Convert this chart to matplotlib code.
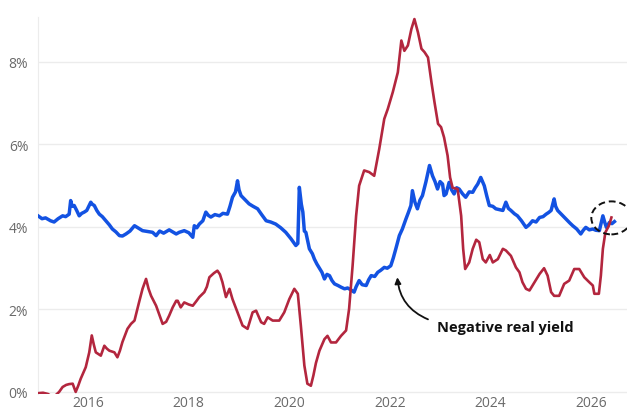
import matplotlib
matplotlib.use("Agg")
import matplotlib.pyplot as plt
from matplotlib.patches import Ellipse

plt.rcParams['font.family'] = ['Open Sans', 'DejaVu Sans']

# Blue series (decimal year, percent)
blue_t = [2015.00, 2015.08, 2015.15, 2015.25, 2015.32, 2015.40, 2015.49, 2015.55, 2015.62, 2015.65,
          2015.68, 2015.72, 2015.77, 2015.82, 2015.87, 2015.92, 2015.97, 2016.05, 2016.08, 2016.12,
          2016.17, 2016.22, 2016.28, 2016.35, 2016.42, 2016.48, 2016.55, 2016.62, 2016.68, 2016.75,
          2016.83, 2016.92, 2017.00, 2017.08, 2017.18, 2017.28, 2017.35, 2017.42, 2017.50, 2017.61,
          2017.68, 2017.75, 2017.81, 2017.91, 2018.00, 2018.08, 2018.11, 2018.16, 2018.21, 2018.28,
          2018.34, 2018.39, 2018.44, 2018.52, 2018.61, 2018.68, 2018.77, 2018.82, 2018.87, 2018.93,
          2018.97, 2019.00, 2019.04, 2019.12, 2019.20, 2019.28, 2019.37, 2019.45, 2019.54, 2019.63,
          2019.73, 2019.83, 2019.93, 2020.03, 2020.13, 2020.17, 2020.20, 2020.24, 2020.27, 2020.30,
          2020.33, 2020.40, 2020.46, 2020.50, 2020.55, 2020.60, 2020.65, 2020.70, 2020.75, 2020.80,
          2020.85, 2020.90, 2020.97, 2021.03, 2021.10, 2021.16, 2021.22, 2021.29, 2021.33, 2021.39,
          2021.45, 2021.53, 2021.58, 2021.63, 2021.70, 2021.76, 2021.82, 2021.89, 2021.95, 2022.02,
          2022.07, 2022.12, 2022.19, 2022.25, 2022.32, 2022.37, 2022.42, 2022.45, 2022.50, 2022.55,
          2022.60, 2022.65, 2022.72, 2022.79, 2022.85, 2022.90, 2022.95, 2023.00, 2023.05, 2023.08,
          2023.12, 2023.18, 2023.23, 2023.28, 2023.33, 2023.38, 2023.45, 2023.51, 2023.58, 2023.65,
          2023.70, 2023.75, 2023.81, 2023.88, 2023.93, 2023.98, 2024.05, 2024.11, 2024.18, 2024.25,
          2024.31, 2024.36, 2024.41, 2024.48, 2024.54, 2024.62, 2024.71, 2024.77, 2024.84, 2024.91,
          2024.98, 2025.05, 2025.11, 2025.16, 2025.21, 2025.27, 2025.30, 2025.34, 2025.42, 2025.51,
          2025.58, 2025.64, 2025.72, 2025.80, 2025.85, 2025.90, 2025.97, 2026.04, 2026.10, 2026.17,
          2026.24, 2026.28, 2026.31, 2026.37, 2026.42, 2026.47]
blue_v = [4.27, 4.20, 4.22, 4.15, 4.12, 4.20, 4.27, 4.25, 4.31, 4.64,
          4.50, 4.52, 4.40, 4.27, 4.33, 4.36, 4.40, 4.60, 4.55, 4.52,
          4.40, 4.31, 4.25, 4.15, 4.05, 3.95, 3.88, 3.79, 3.78, 3.83,
          3.90, 4.03, 3.97, 3.91, 3.89, 3.87, 3.79, 3.90, 3.85, 3.93,
          3.88, 3.83, 3.87, 3.91, 3.86, 3.75, 4.03, 3.98, 4.07, 4.15,
          4.36, 4.28, 4.24, 4.30, 4.27, 4.33, 4.31, 4.50, 4.72, 4.85,
          5.12, 4.90, 4.76, 4.66, 4.56, 4.50, 4.44, 4.30, 4.15, 4.12,
          4.07, 3.98, 3.87, 3.72, 3.55, 3.60, 4.96, 4.55, 4.36, 3.90,
          3.87, 3.47, 3.35, 3.22, 3.10, 3.00, 2.90, 2.74, 2.85, 2.82,
          2.70, 2.62, 2.58, 2.54, 2.50, 2.52, 2.48, 2.42, 2.55, 2.70,
          2.60, 2.58, 2.72, 2.82, 2.80, 2.90, 2.95, 3.02, 3.00, 3.06,
          3.25, 3.47, 3.79, 3.95, 4.19, 4.35, 4.52, 4.88, 4.60, 4.44,
          4.65, 4.76, 5.10, 5.49, 5.24, 5.10, 4.92, 5.10, 5.04, 4.76,
          4.80, 5.08, 4.90, 4.80, 4.95, 4.92, 4.80, 4.72, 4.85, 4.84,
          4.95, 5.04, 5.20, 5.00, 4.75, 4.52, 4.50, 4.44, 4.42, 4.40,
          4.60, 4.45, 4.40, 4.32, 4.27, 4.15, 3.99, 4.05, 4.15, 4.12,
          4.23, 4.25, 4.31, 4.35, 4.40, 4.68, 4.50, 4.40, 4.30, 4.19,
          4.10, 4.03, 3.95, 3.83, 3.92, 3.99, 3.93, 3.95, 3.92, 3.91,
          4.27, 4.10, 3.99, 4.11, 4.08, 4.13]

# Red series (decimal year, percent)
red_t = [2015.00, 2015.10, 2015.20, 2015.28, 2015.35, 2015.42, 2015.49, 2015.56, 2015.62, 2015.69,
         2015.75, 2015.80, 2015.85, 2015.95, 2016.02, 2016.07, 2016.11, 2016.15, 2016.25, 2016.32,
         2016.37, 2016.42, 2016.52, 2016.58, 2016.63, 2016.68, 2016.78, 2016.85, 2016.92, 2017.01,
         2017.08, 2017.15, 2017.20, 2017.25, 2017.35, 2017.42, 2017.48, 2017.55, 2017.61, 2017.68,
         2017.75, 2017.78, 2017.84, 2017.91, 2018.00, 2018.08, 2018.15, 2018.21, 2018.31, 2018.36,
         2018.41, 2018.50, 2018.57, 2018.62, 2018.67, 2018.74, 2018.81, 2018.87, 2018.97, 2019.07,
         2019.17, 2019.27, 2019.34, 2019.44, 2019.50, 2019.57, 2019.67, 2019.80, 2019.90, 2020.00,
         2020.10, 2020.17, 2020.23, 2020.30, 2020.36, 2020.43, 2020.48, 2020.53, 2020.60, 2020.70,
         2020.76, 2020.83, 2020.93, 2021.03, 2021.13, 2021.19, 2021.26, 2021.33, 2021.39, 2021.49,
         2021.59, 2021.69, 2021.79, 2021.89, 2021.96, 2022.06, 2022.16, 2022.23, 2022.29, 2022.36,
         2022.43, 2022.49, 2022.56, 2022.63, 2022.69, 2022.76, 2022.83, 2022.89, 2022.96, 2023.02,
         2023.08, 2023.15, 2023.20, 2023.25, 2023.35, 2023.42, 2023.46, 2023.50, 2023.58, 2023.65,
         2023.72, 2023.78, 2023.85, 2023.91, 2023.99, 2024.05, 2024.15, 2024.25, 2024.31, 2024.41,
         2024.51, 2024.58, 2024.64, 2024.71, 2024.78, 2024.88, 2024.98, 2025.07, 2025.14, 2025.21,
         2025.27, 2025.37, 2025.47, 2025.57, 2025.67, 2025.77, 2025.87, 2025.97, 2026.04, 2026.07,
         2026.16, 2026.20, 2026.24, 2026.29, 2026.36, 2026.41]
red_v = [-0.03, -0.02, -0.05, -0.12, -0.08, 0.00, 0.12, 0.17, 0.19, 0.20,
         0.00, 0.15, 0.32, 0.60, 0.96, 1.37, 1.15, 0.96, 0.88, 1.12,
         1.05, 1.00, 0.96, 0.84, 1.00, 1.21, 1.53, 1.65, 1.73, 2.17,
         2.50, 2.74, 2.50, 2.33, 2.09, 1.85, 1.65, 1.70, 1.85, 2.05,
         2.21, 2.21, 2.05, 2.17, 2.12, 2.09, 2.20, 2.30, 2.42, 2.55,
         2.78, 2.88, 2.94, 2.85, 2.66, 2.30, 2.50, 2.25, 1.93, 1.61,
         1.53, 1.93, 1.97, 1.69, 1.65, 1.81, 1.73, 1.73, 1.93, 2.25,
         2.50, 2.38, 1.61, 0.64, 0.20, 0.15, 0.40, 0.70, 1.00, 1.28,
         1.36, 1.20, 1.20, 1.36, 1.49, 2.01, 3.06, 4.27, 5.00, 5.37,
         5.33, 5.24, 5.89, 6.62, 6.86, 7.27, 7.75, 8.52, 8.27, 8.40,
         8.80, 9.04, 8.72, 8.32, 8.24, 8.11, 7.50, 7.02, 6.50, 6.42,
         6.17, 5.73, 5.20, 4.95, 4.92, 4.27, 3.47, 2.98, 3.14, 3.47,
         3.69, 3.63, 3.22, 3.14, 3.32, 3.14, 3.22, 3.47, 3.43, 3.30,
         3.02, 2.90, 2.66, 2.50, 2.46, 2.66, 2.86, 3.00, 2.82, 2.42,
         2.33, 2.33, 2.62, 2.70, 2.98, 2.98, 2.78, 2.66, 2.58, 2.38,
         2.38, 2.82, 3.47, 3.87, 4.03, 4.23]

x_ticks = [2016, 2018, 2020, 2022, 2024, 2026]
y_ticks = [0, 2, 4, 6, 8]
y_labels = ["0%", "2%", "4%", "6%", "8%"]
annotation_text = "Negative real yield"

W, H = 627, 410
fig = plt.figure(figsize=(W / 100, H / 100), dpi=100)
ax = fig.add_axes([38 / W, 15 / H, 1 - 38 / W, 377.4 / H])

ax.plot(blue_t, blue_v, color="#1352e2", lw=2.5, solid_joinstyle="round", zorder=3)
ax.plot(red_t, red_v, color="#b3263e", lw=1.9, solid_joinstyle="round", zorder=4)

ax.set_xlim(2015.0, 2026.72)
ax.set_ylim(-0.05, 9.1)
ax.set_xticks(x_ticks)
ax.set_xticklabels([str(t) for t in x_ticks])
ax.set_yticks(y_ticks)
ax.set_yticklabels(y_labels)
ax.tick_params(axis="both", length=0, labelsize=10, labelcolor="#6a6a6a")
ax.tick_params(axis="x", pad=1)
ax.tick_params(axis="y", pad=7)
ax.grid(axis="y", color="#ececec", lw=1)
ax.set_axisbelow(True)
for s in ["top", "right", "bottom"]:
    ax.spines[s].set_visible(False)
ax.spines["left"].set_color("#ececec")

ax.text(2022.93, 1.58, annotation_text, fontsize=10.5, fontweight="bold",
        color="#111111", va="center", ha="left")
ax.annotate("", xy=(2022.15, 2.78), xytext=(2022.76, 1.76),
            arrowprops=dict(arrowstyle="-|>", color="#111111", lw=1.3,
                            connectionstyle="arc3,rad=-0.3", shrinkA=0, shrinkB=0,
                            mutation_scale=9))

ell = Ellipse((2026.41, 4.22), width=0.80, height=0.80, fill=False,
              edgecolor="#111111", lw=1.4, linestyle=(0, (3.5, 2)), zorder=5, clip_on=False)
ax.add_patch(ell)

fig.savefig("out.png", dpi=100)
